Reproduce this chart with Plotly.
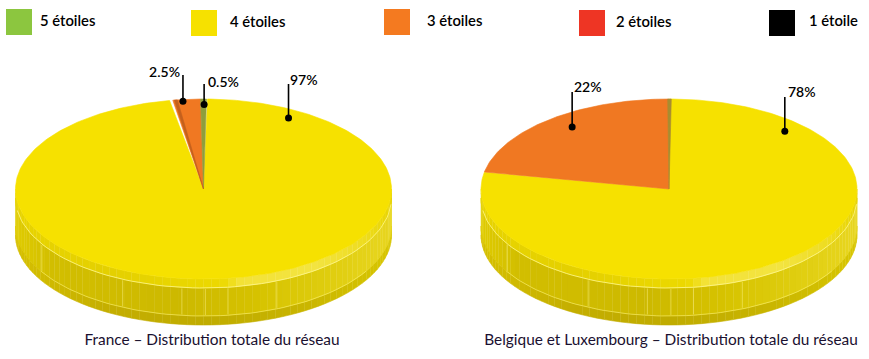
import numpy as np
import plotly.graph_objects as go

# ---------- data ----------
categories = ["5 étoiles", "4 étoiles", "3 étoiles", "2 étoiles", "1 étoile"]
france_values = [0.5, 97, 2.5, 0, 0]
belgium_values = [0, 78, 22, 0, 0]
france_title = "France – Distribution totale du réseau"
belgium_title = "Belgique et Luxembourg – Distribution totale du réseau"

# ---------- styles ----------
colors = ["#8CC63F", "#F6E100", "#F47A20", "#EE3524", "#000000"]
slice_colors = {0: "#8E9E3C", 1: "#F6E100", 2: "#F07822", 3: "#EE3524", 4: "#000000"}
FONT = "Lato"
RX, RY, CY = 188, 90, 189
LIP1, LIP2, DEPTH = 9, 37, 46
CLOCK_ORDER = [1, 2, 3, 4, 0]  # slices clockwise from 12 o'clock

WALL = [(-1, (224, 204, 0)), (-.8, (210, 190, 0)), (-.1, (205, 185, 0)), (.3, (214, 195, 0)), (.7, (224, 206, 16)), (1, (232, 214, 32))]
RIM = [(-1, (232, 212, 0)), (-.5, (228, 208, 0)), (.1, (236, 217, 0)), (.2, (243, 226, 56)), (.6, (243, 228, 64)), (.85, (238, 220, 32)), (1, (232, 212, 0))]
LIP = [(-1, (214, 192, 0)), (-.5, (196, 174, 0)), (0, (192, 172, 0)), (.5, (200, 180, 0)), (1, (216, 198, 0))]
SEAMS = [-.86, -.43, -.115, .01, .13, .39]

fig = go.Figure()


def ramp(stops, u):
    for (u0, c0), (u1, c1) in zip(stops, stops[1:]):
        if u <= u1:
            t = (u - u0) / (u1 - u0)
            c = [round(a + (b - a) * t) for a, b in zip(c0, c1)]
            return f"rgb({c[0]},{c[1]},{c[2]})"
    c = stops[-1][1]
    return f"rgb({c[0]},{c[1]},{c[2]})"


def poly(x, y, fill):
    fig.add_trace(go.Scatter(x=x, y=y, mode="lines", fill="toself", fillcolor=fill,
                             line=dict(color=fill, width=0.6), hoverinfo="skip", showlegend=False))


def stroke(x, y, color, width):
    fig.add_trace(go.Scatter(x=x, y=y, mode="lines", line=dict(color=color, width=width),
                             hoverinfo="skip", showlegend=False))


def wedge(cx, t0, t1, fill):
    t = np.radians(np.linspace(t0, t1, max(int(abs(t1 - t0)) + 2, 4)))
    x = np.r_[cx, cx + RX * np.sin(t), cx]
    y = np.r_[CY, CY - RY * np.cos(t), CY]
    poly(x, y, fill)


def band(cx, off0, off1, stops, n=72):
    edges = np.linspace(180, 0, n + 1)
    for a0, a1 in zip(edges, edges[1:]):
        a = np.radians(np.linspace(a0, a1, 4))
        x = cx + RX * np.cos(a)
        s = np.sin(a)
        xs = np.r_[x, x[::-1]]
        ys = np.r_[CY + off0 + RY * s, (CY + off1 + RY * s)[::-1]]
        poly(xs, ys, ramp(stops, float(np.cos(np.radians((a0 + a1) / 2)))))


def seam_arc(cx, off, a0, a1, color, width):
    a = np.radians(np.linspace(a0, a1, 80))
    stroke(cx + RX * np.cos(a), CY + off + RY * np.sin(a), color, width)


def pie(cx, values, rotation, insets, dark_edge, title, title_x, callouts):
    band(cx, LIP2, DEPTH, LIP)
    band(cx, LIP1, LIP2, WALL)
    band(cx, 0, LIP1, RIM)
    for u in SEAMS:
        a = np.arccos(u)
        xx = cx + RX * u
        yy = CY + RY * np.sin(a)
        stroke([xx, xx], [yy + LIP1 + 1, yy + LIP2 - 1], "rgba(250,240,130,0.75)", 0.7)
    seam_arc(cx, LIP1, 172, 4, "rgba(255,248,150,0.95)", 0.8)
    seam_arc(cx, LIP2, 150, 30, "rgba(255,245,120,0.8)", 0.7)
    start = rotation
    for i in CLOCK_ORDER:
        sweep = values[i] * 3.6
        if sweep > 0:
            i0, i1 = insets.get(i, (0, 0))
            wedge(cx, start + i0, start + sweep - i1, slice_colors[i])
        start += sweep
    t0, t1, c = dark_edge
    wedge(cx, t0, t1, c)
    for value, theta, r, top, tx, ty, anchor in callouts:
        th = np.radians(theta)
        dx = cx + RX * r * np.sin(th)
        dy = CY - RY * r * np.cos(th)
        stroke([dx, dx], [top, dy], "#000000", 1.6)
        fig.add_trace(go.Scatter(x=[dx], y=[dy], mode="markers", marker=dict(color="#000000", size=7),
                                 hoverinfo="skip", showlegend=False))
        fig.add_trace(go.Scatter(x=[tx], y=[ty], mode="text", text=[f"{value:g}%"],
                                 textposition=f"middle {anchor}",
                                 textfont=dict(family=FONT, size=14, color="#000000", weight=600),
                                 hoverinfo="skip", showlegend=False))
    fig.add_trace(go.Scatter(x=[title_x], y=[341], mode="text", text=[title], textposition="middle center",
                             textfont=dict(family=FONT, size=15.4, color="#1A1030"),
                             hoverinfo="skip", showlegend=False))


# ---------- legend row ----------
legend_x = [19, 204, 397, 592, 782]
legend_y = [22, 23, 22, 23, 23]
legend_text_x = [40, 230, 427, 616, 809]
legend_text_y = [22, 23, 22, 23, 22]
for name, color, lx, ly, tx, ty in zip(categories, colors, legend_x, legend_y, legend_text_x, legend_text_y):
    fig.add_trace(go.Scatter(x=[lx], y=[ly], mode="markers",
                             marker=dict(symbol="square", size=26, color=color, line=dict(width=0)),
                             hoverinfo="skip", showlegend=False))
    fig.add_trace(go.Scatter(x=[tx], y=[ty], mode="text", text=[name], textposition="middle right",
                             textfont=dict(family=FONT, size=14.8, color="#000000", weight=600),
                             hoverinfo="skip", showlegend=False))

# ---------- pies ----------
pie(203.5, france_values, 0.9, {1: (0.3, 0.5), 2: (0.5, 0)}, (-8.9, -8.0, "#C4601C"), france_title, 212,
    [(france_values[2], -6.4, 0.98, 75, 180, 73, "left"),
     (france_values[0], 0.2, 0.94, 84, 208, 83, "right"),
     (france_values[1], 29.8, 0.91, 84, 290, 81, "right")])
pie(669, belgium_values, 0, {1: (0.1, 0.1), 2: (0.1, 0.1)}, (-0.4, 0.7, "#A88C30"), belgium_title, 671,
    [(belgium_values[2], -36.8, 0.86, 92, 574, 88, "right"),
     (belgium_values[1], 43.8, 0.89, 97, 788, 93, "right")])

fig.update_layout(
    width=869, height=359, margin=dict(l=0, r=0, t=0, b=0),
    paper_bgcolor="white", plot_bgcolor="white", showlegend=False,
    xaxis=dict(range=[0, 869], visible=False, fixedrange=True),
    yaxis=dict(range=[359, 0], visible=False, fixedrange=True),
)
fig.write_html("out.html", config=dict(displayModeBar=False),
               post_script="document.body.style.margin='0';document.body.style.overflow='hidden';")
